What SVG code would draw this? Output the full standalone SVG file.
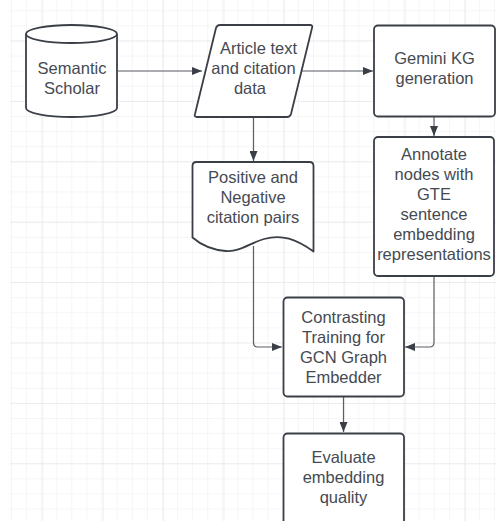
<svg xmlns="http://www.w3.org/2000/svg" width="496" height="521" viewBox="0 0 496 521">
  <defs>
    <pattern id="gridMinor" x="11" y="10.3" width="15.1" height="15.1" patternUnits="userSpaceOnUse">
      <path d="M0,0 H15.1 M0,0 V15.1" fill="none" stroke="#ececec" stroke-width="1"/>
    </pattern>
    <pattern id="gridMajor" x="42.3" y="40.5" width="60.4" height="60.4" patternUnits="userSpaceOnUse">
      <path d="M0,0 H60.4 M0,0 V60.4" fill="none" stroke="#e2e2e2" stroke-width="1"/>
    </pattern>
    <marker id="arrow" viewBox="0 0 10 8" refX="10" refY="4" markerWidth="10" markerHeight="8" markerUnits="userSpaceOnUse" orient="auto">
      <path d="M0,0 L10,4 L0,8 Z" fill="#3a3f47"/>
    </marker>
    <style>
      .shape { fill: #ffffff; stroke: #3a3f47; stroke-width: 1.8; stroke-linejoin: round; }
      .conn { fill: none; stroke: #5a5f66; stroke-width: 1.2; marker-end: url(#arrow); }
      .label { font-family: "Liberation Sans", Arial, sans-serif; font-size: 16.5px; fill: #454a52; text-anchor: middle; }
    </style>
  </defs>

  <rect x="0" y="0" width="496" height="521" fill="#ffffff"/>
  <rect x="10" y="0" width="486" height="521" fill="url(#gridMinor)"/>
  <rect x="10" y="0" width="486" height="521" fill="url(#gridMajor)"/>

  <g id="connectors">
    <path class="conn" d="M118,71 H202"/>
    <path class="conn" d="M302,71 H373"/>
    <path class="conn" d="M434,117 V136"/>
    <path class="conn" d="M253.5,117 V161"/>
    <path class="conn" d="M253.5,246 V342.5 Q253.5,347 258,347 H282"/>
    <path class="conn" d="M434,277 V342.5 Q434,347 429.5,347 H405"/>
    <path class="conn" d="M343.5,397 V432"/>
  </g>

  <g id="semantic-scholar">
    <path class="shape" d="M26,34 A45.5,9 0 0 1 117,34 L117,108 A45.5,9 0 0 1 26,108 Z"/>
    <path class="shape" d="M26,34 A45.5,9 0 0 0 117,34"/>
    <text class="label" x="72" y="74">Semantic</text>
    <text class="label" x="72" y="94">Scholar</text>
  </g>

  <g id="article-text">
    <path class="shape" d="M220,25 H310 Q313,25 312,28 L291,114 Q290,117 287,117 H197 Q194,117 195,114 L216,28 Q217,25 220,25 Z"/>
    <text class="label" x="258.5" y="54">Article text</text>
    <text class="label" x="253.5" y="74">and citation</text>
    <text class="label" x="250" y="94">data</text>
  </g>

  <g id="gemini-kg">
    <rect class="shape" x="374" y="25.5" width="121" height="91" rx="4"/>
    <text class="label" x="434.5" y="64">Gemini KG</text>
    <text class="label" x="434.5" y="84">generation</text>
  </g>

  <g id="annotate-nodes">
    <rect class="shape" x="374" y="137" width="120" height="139" rx="4"/>
    <text class="label" x="434" y="160">Annotate</text>
    <text class="label" x="434" y="180">nodes with</text>
    <text class="label" x="434" y="200">GTE</text>
    <text class="label" x="434" y="220">sentence</text>
    <text class="label" x="434" y="240">embedding</text>
    <text class="label" x="434" y="260">representations</text>
  </g>

  <g id="citation-pairs">
    <path class="shape" d="M196.5,162 H309.5 Q313.5,162 313.5,166 V251.5 C296,239 282,234 264,239 C250,243 240,252 226,251 C212,250 200,244 192.5,237.5 V166 Q192.5,162 196.5,162 Z"/>
    <text class="label" x="253" y="183">Positive and</text>
    <text class="label" x="253" y="203">Negative</text>
    <text class="label" x="253" y="223">citation pairs</text>
  </g>

  <g id="contrastive-training">
    <rect class="shape" x="283.5" y="297.5" width="120.5" height="99" rx="4"/>
    <text class="label" x="343.5" y="323">Contrasting</text>
    <text class="label" x="343.5" y="343">Training for</text>
    <text class="label" x="343.5" y="363">GCN Graph</text>
    <text class="label" x="343.5" y="383">Embedder</text>
  </g>

  <g id="evaluate">
    <rect class="shape" x="283.5" y="433.5" width="120.5" height="110" rx="4"/>
    <text class="label" x="343.5" y="463">Evaluate</text>
    <text class="label" x="343.5" y="483">embedding</text>
    <text class="label" x="343.5" y="503">quality</text>
  </g>
</svg>
